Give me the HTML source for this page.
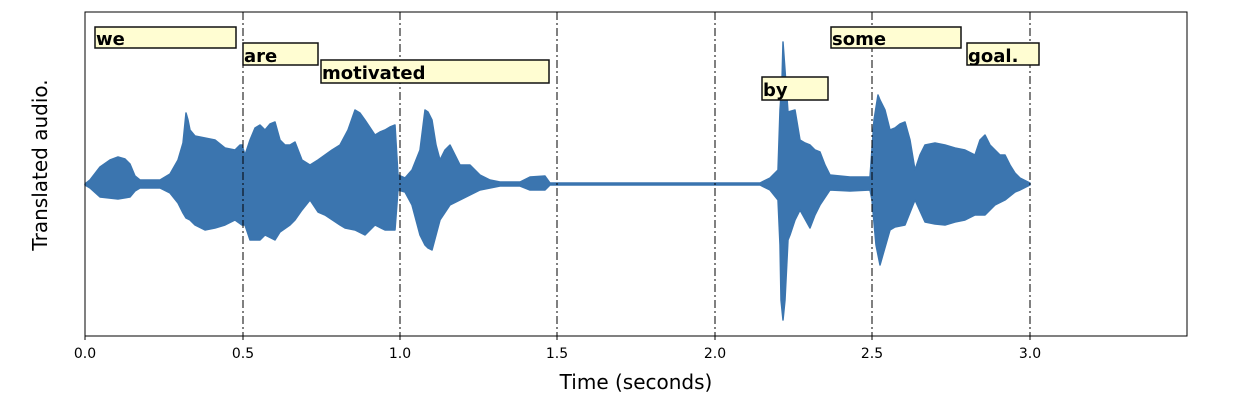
<!DOCTYPE html>
<html><head><meta charset="utf-8"><style>body{margin:0;background:#fff}</style></head><body>
<svg width="1250" height="404" xmlns="http://www.w3.org/2000/svg" font-family="DejaVu Sans, Liberation Sans, sans-serif">
<rect width="1250" height="404" fill="#fff"/>
<polygon fill="#3b75af" stroke="#3b75af" stroke-width="1.5" stroke-linejoin="round" points="
85,184 90,180 100,167 110,160 118,157 125,159 130,164 135,176 140,180 160,180 170,174 178,160 183,143 186,113 188,120 190,130 195,136 205,138 215,140 225,148 235,150 240,145 242,145 245,155 250,140 255,128 260,125 265,130 270,124 275,122 280,140 285,145 290,145 295,142 302,160 310,165 318,160 325,155 332,150 340,145 348,130 355,110 360,113 365,120 375,135 380,132 385,130 390,127 395,125 398,175 405,178 412,170 420,150 425,110 428,112 432,120 436,145 440,160 445,150 450,145 455,155 460,165 470,165 480,175 490,180 500,182 520,182 530,177 545,176 550,183 760,183 770,178 778,170 780,110 782,80 783,42 785,70 788,112 795,110 800,140 805,143 810,145 815,150 820,152 825,165 830,175 850,177 870,177 874,120 878,95 880,100 885,110 890,130 895,128 900,124 905,122 910,140 915,170 920,155 925,145 935,143 945,145 955,148 965,150 975,155 980,140 985,135 990,145 995,150 1000,155 1005,155 1010,165 1015,173 1020,178 1030,183
1030,185 1020,190 1015,192 1005,200 995,205 985,215 975,215 965,220 955,222 945,225 935,224 925,222 915,200 905,225 895,227 890,230 880,265 876,245 872,200 870,190 850,191 830,190 820,205 815,215 810,228 800,210 795,220 790,235 788,240 785,300 783,320 781,300 780,245 778,200 770,190 760,185 550,185 545,190 530,190 520,186 500,186 480,190 470,195 460,200 450,205 440,220 436,235 432,250 428,248 425,245 420,235 412,205 405,192 398,190 395,230 385,230 375,225 365,235 355,230 345,228 340,225 325,215 318,212 310,200 302,210 295,220 290,225 280,232 275,240 265,235 260,240 250,240 245,225 242,225 235,220 225,225 215,228 205,230 195,225 190,220 186,218 183,213 178,203 170,193 160,188 140,188 135,191 130,197 118,199 100,197 90,188 85,185"/>
<g stroke="#000" stroke-width="1" stroke-dasharray="8,3,2,3">
<line x1="243" y1="12" x2="243" y2="336"/><line x1="400" y1="12" x2="400" y2="336"/><line x1="557" y1="12" x2="557" y2="336"/><line x1="715" y1="12" x2="715" y2="336"/><line x1="872" y1="12" x2="872" y2="336"/><line x1="1030" y1="12" x2="1030" y2="336"/>
</g>
<g fill="#fffdd2" stroke="#111" stroke-width="1.5">
<rect x="95" y="27" width="141" height="21"/><rect x="243" y="43" width="75" height="22"/><rect x="321" y="60" width="228" height="23"/><rect x="762" y="77" width="66" height="23"/><rect x="831" y="27" width="130" height="21"/><rect x="967" y="43" width="72" height="22"/>
</g>
<g font-weight="bold" font-size="18" fill="#000">
<text x="96" y="45">we</text><text x="244" y="62">are</text><text x="322" y="79">motivated</text><text x="763" y="96">by</text><text x="832" y="45">some</text><text x="968" y="62">goal.</text>
</g>
<rect x="85" y="12" width="1102" height="324" fill="none" stroke="#000" stroke-width="1"/>
<g stroke="#000"><line x1="85" y1="336" x2="85" y2="340"/><line x1="243" y1="336" x2="243" y2="340"/><line x1="400" y1="336" x2="400" y2="340"/><line x1="557" y1="336" x2="557" y2="340"/><line x1="715" y1="336" x2="715" y2="340"/><line x1="872" y1="336" x2="872" y2="340"/><line x1="1030" y1="336" x2="1030" y2="340"/></g>
<g font-size="14" text-anchor="middle" fill="#000">
<text x="85" y="358">0.0</text><text x="243" y="358">0.5</text><text x="400" y="358">1.0</text><text x="557" y="358">1.5</text><text x="715" y="358">2.0</text><text x="872" y="358">2.5</text><text x="1030" y="358">3.0</text>
</g>
<text x="636" y="389" font-size="20" text-anchor="middle">Time (seconds)</text>
<text transform="translate(47,165) rotate(-90)" font-size="20" text-anchor="middle">Translated audio.</text>
</svg>
</body></html>
